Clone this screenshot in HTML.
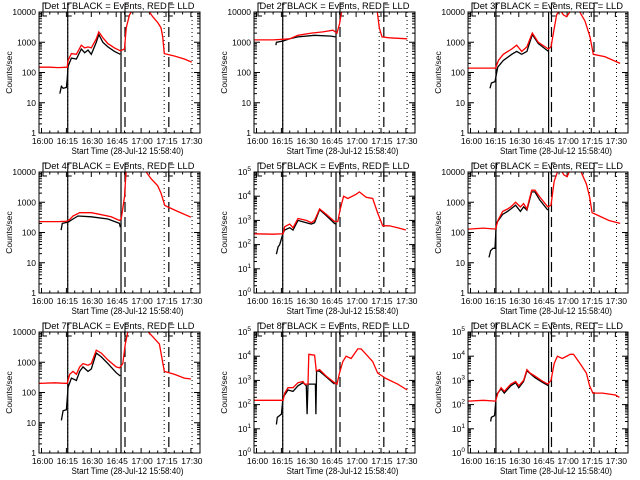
<!DOCTYPE html>
<html><head><meta charset="utf-8"><style>
html,body{margin:0;padding:0;background:#fff;}
svg{display:block;font-family:"Liberation Sans",sans-serif;}
</style></head><body>
<svg id="chart" width="640" height="480" viewBox="0 0 640 480"></svg>
<script>
// Panel time/value data (minutes since 16:00)
const xTickLabels = ["16:00","16:15","16:30","16:45","17:00","17:15","17:30"];
const xTickMinutes = [0,15,30,45,60,75,90];
const detNames = ["1f","2f","3f","4f","5f","6f","7f","8f","9f"];
const decades = [4,4,4,4,5,4,4,5,5];

const r1t=[-1.3,5,10,15.5,16,18,21,24,26,28,30,33,34.5,37,40,44,47.5,50,51,53,55,64,67,70,72,73,74,80,86,90.5];
const r1v=[150,150,145,150,250,420,400,800,650,700,650,1300,2200,1400,900,650,520,600,3000,8000,12000,12000,7000,4500,3000,1500,420,350,280,220];
const b1t=[11,12,13,15,15.5,16,18,21,24,26,28,30,33,34.5,37,40,44,47.5];
const b1v=[20,35,30,32,60,160,300,280,600,450,550,400,1000,1800,1000,700,500,400];

const r2t=[-1.3,10,16,20,25,33,40,46,48.5,50,51.5,72.6,74,75.6,80,90.8];
const r2v=[1200,1200,1250,1300,1700,2000,2200,2500,2000,4000,12000,12000,3000,1500,1400,1300];
const b2t=[11.7,12,16,20,25,35,45,47.5];
const b2v=[800,1000,1100,1300,1500,1700,1600,1500];

const r3t=[-1.3,8,15.6,17.3,20.4,25.6,28.7,31.8,35,38.4,42.1,48.4,50,53.5,55.6,57.7,59.7,62.8,67,71.1,74.2,76.3,83.6,92.9];
const r3v=[140,140,140,250,400,600,800,500,700,2000,1000,600,700,8000,12000,8000,7000,12000,12000,5000,1500,400,330,200];
const b3t=[12.1,13,15.2,16.9,20.4,25.6,28.7,31.8,35,38.4,42.1,48.4];
const b3v=[30,45,50,150,250,400,500,400,500,1800,900,500];

const r4t=[-1.3,10,15,17,19,23,30,35,42,47,48,50,51,59,62,66,70,72,74.2,76,82,90];
const r4v=[230,230,235,270,350,450,450,400,330,250,280,1500,12000,12000,12000,6000,3500,2000,800,700,500,320];
const b4t=[11.8,12.5,16,19,22,30,40,47,47.5];
const b4v=[120,200,220,280,350,330,280,200,150];

const r5t=[-1.3,10,16,17,20,22,25,30,33,35,38,42,47,49,50.5,52.5,55,60,62,66,70,73,76,80,85,90];
const r5v=[280,270,280,550,700,500,1200,1000,800,1000,3000,1800,900,900,3000,10000,8000,12000,15000,9000,8000,2000,600,600,500,400];
const b5t=[12,13,14,16,17,20,22,25,30,33,35,38,42,47,48];
const b5v=[40,80,100,300,400,500,400,1000,800,700,800,2800,1600,750,700];

const r6t=[-1.3,8,15.6,17,20,23,25,28,31,33,35,38,40,43,48,50,52,54,56,58,60,62,68,72,74,75.5,80,86,93];
const r6v=[130,140,130,250,500,600,700,1000,700,900,600,2500,2500,1500,700,800,5000,10000,12000,8000,7000,12000,12000,4000,1500,450,350,250,200];
const b6t=[11.5,12.5,14,15.2,16,20,23,25,28,31,33,35,38,40,43,48];
const b6v=[15,25,30,30,200,400,500,600,800,500,700,550,2200,2200,1200,550];

const r7t=[-1.3,8,15.5,17,19,21,23,25,28,30,33,36,40,45,47,49,50.5,52,56,63,67,71,74,80,86,90];
const r7v=[200,210,200,400,500,400,700,900,800,900,2500,2000,1200,700,650,900,4000,10000,12000,12000,7000,4000,500,400,300,280];
const b7t=[12,13,15,15.5,16,18,21,23,25,28,30,33,36,40,45,47.5];
const b7v=[12,25,27,60,150,300,250,500,700,500,600,2000,1500,900,450,350];

const r8t=[-1.3,10,16,17,19,22,25,28,29,31,31.5,35,36,38,42,47,48.5,50,52,54,57,61,63,66,70,73,78,85,90.8];
const r8v=[150,150,150,300,500,500,800,900,700,700,12000,11000,2500,2800,1500,800,700,2000,6000,10000,8000,20000,20000,12000,6000,2000,1200,700,400];
const b8t=[12,12.5,15,16,19,22,25,28,30,30.5,31,35.5,35.8,36.2,38,42,47];
const b8v=[15,30,40,200,400,350,600,800,600,40,700,700,40,2500,2400,1400,700];

const r9t=[-1.3,8,15.6,17,19,21,23,25,28,30,33,35,37,40,45,48,50,52,54,57,62,64,68,72,74,76,82,90,92.5];
const r9v=[140,150,140,300,500,350,500,700,900,600,1000,2800,2000,1500,900,700,1000,5000,10000,8000,12000,12000,5000,2000,600,300,300,250,200];
const b9t=[12.5,13,15,16,19,21,25,28,30,33,35,40,45,48.5];
const b9v=[20,30,35,250,450,300,600,800,500,900,2500,1300,800,600];

const redT=[r1t,r2t,r3t,r4t,r5t,r6t,r7t,r8t,r9t];
const redV=[r1v,r2v,r3v,r4v,r5v,r6v,r7v,r8v,r9v];
const blkT=[b1t,b2t,b3t,b4t,b5t,b6t,b7t,b8t,b9t];
const blkV=[b1v,b2v,b3v,b4v,b5v,b6v,b7v,b8v,b9v];
const solidMarks=[15.8,47.9];
const dashedMarks=[50.3,76.7];
const dottedMarks=[15.8,73.9,90.7];

const NS="http://www.w3.org/2000/svg";
const svg=document.getElementById('chart');
function mk(tag,attrs,parent){const e=document.createElementNS(NS,tag);for(const k in attrs)e.setAttribute(k,attrs[k]);(parent||svg).appendChild(e);return e;}

const colL=[39,254,468], colR=[200,415,628], colX0=[41.5,256.5,470.5], colS=[1.66,1.66,1.61];
const rowT=[12,172,332], rowB=[133,293,453];

for(let p=0;p<9;p++){
  const c=p%3, r=Math.floor(p/3);
  const L=colL[c],R=colR[c],T=rowT[r],B=rowB[r],nd=decades[p];
  const xs=m=>colX0[c]+m*colS[c];
  const ys=v=>B-(Math.log10(Math.max(v,1e-3)))/nd*(B-T);
  const g=mk('g',{});
  
  
  const cid='clip'+p;
  const cp=mk('clipPath',{id:cid},g);mk('rect',{x:L,y:T,width:R-L,height:B-T},cp);
  // title
  const tt=mk('text',{x:(L+R)/2,y:T-3,'text-anchor':'middle','font-size':'9.5',textLength:150,lengthAdjust:'spacingAndGlyphs'},g);
  tt.textContent='Det '+detNames[p]+' BLACK = Events, RED = LLD';
  
  
  // y title
  const yt=mk('text',{x:0,y:0,'text-anchor':'middle','font-size':'8.5',transform:`translate(${L-27},${(T+B)/2}) rotate(-90)`},g);
  yt.textContent='Counts/sec';
  
  
  // x title
  const xt=mk('text',{x:(L+R)/2+8,y:B+21,'text-anchor':'middle','font-size':'9.5',textLength:112,lengthAdjust:'spacingAndGlyphs'},g);
  xt.textContent='Start Time (28-Jul-12 15:58:40)';
  
  
  // x ticks
  for(let i=0;i<xTickMinutes.length;i++){
    const x=xs(xTickMinutes[i]);
    mk('line',{x1:x,x2:x,y1:B,y2:B-5,stroke:'#000'},g);
    mk('line',{x1:x,x2:x,y1:T,y2:T+5,stroke:'#000'},g);
    const tl=mk('text',{x:x+1,y:B+11,'text-anchor':'middle','font-size':'8.5'},g);
    tl.textContent=xTickLabels[i];
    
    
  }
  for(let m=5;m<95;m+=5){ if(m%15===0)continue; const x=xs(m); if(x>R)break;
    mk('line',{x1:x,x2:x,y1:B,y2:B-2.5,stroke:'#000'},g);mk('line',{x1:x,x2:x,y1:T,y2:T+2.5,stroke:'#000'},g);}
  // y ticks
  for(let d=0;d<=nd;d++){
    const y=B-d/nd*(B-T);
    mk('line',{x1:L,x2:L+6,y1:y,y2:y,stroke:'#000'},g);
    mk('line',{x1:R,x2:R-6,y1:y,y2:y,stroke:'#000'},g);
    if(d<nd) for(let k=2;k<10;k++){const yy=ys(Math.pow(10,d)*k);
      mk('line',{x1:L,x2:L+3,y1:yy,y2:yy,stroke:'#000'},g);mk('line',{x1:R,x2:R-3,y1:yy,y2:yy,stroke:'#000'},g);}
    const yl=mk('text',{x:L-3,y:y+3,'text-anchor':'end','font-size':'8.5'},g);
    if(nd===5){yl.innerHTML='10<tspan dy="-4" font-size="6.5">'+d+'</tspan>';}
    else yl.textContent=String(Math.pow(10,d));
    
    
  }
  // event marks
  const sc=c===2?1.0:1.0;
  solidMarks.forEach(m=>{const x=xs(m)+(c===2&&m>20?1:0);const l=mk('line',{x1:x,x2:x,y1:T,y2:B,stroke:'#000','stroke-width':1.2},g);});
  dashedMarks.forEach(m=>{const x=xs(m);const l=mk('line',{x1:x,x2:x,y1:T,y2:B,stroke:'#000','stroke-width':1.2,'stroke-dasharray':'10,5'},g);});
  dottedMarks.forEach(m=>{const x=xs(m);const l=mk('line',{x1:x,x2:x,y1:T,y2:B,stroke:'#000','stroke-width':1,'stroke-dasharray':'1,3'},g);});
  // brackets at top
  [L+4, xs(solidMarks[0]), xs(dashedMarks[0]), xs(dashedMarks[1])].forEach(x=>{
    mk('path',{d:`M${x+4},${T-9}H${x}V${T+4}H${x+4}`,fill:'none',stroke:'#000'},g);
  });
  // series
  const pts=(ts,vs)=>ts.map((t,i)=>xs(t).toFixed(1)+','+ys(vs[i]).toFixed(1)).join(' ');
  const bl=mk('polyline',{points:pts(blkT[p],blkV[p]),fill:'none',stroke:'#000','stroke-width':1.3,'clip-path':`url(#${cid})`},g);
  
  
  const rl=mk('polyline',{points:pts(redT[p],redV[p]),fill:'none',stroke:'#ff0000','stroke-width':1.3,'clip-path':`url(#${cid})`},g);
  
  
  // frame
  const fr=mk('rect',{x:L,y:T,width:R-L,height:B-T,fill:'none',stroke:'#000','stroke-width':1},g);
  
  
}
</script>
</body></html>
